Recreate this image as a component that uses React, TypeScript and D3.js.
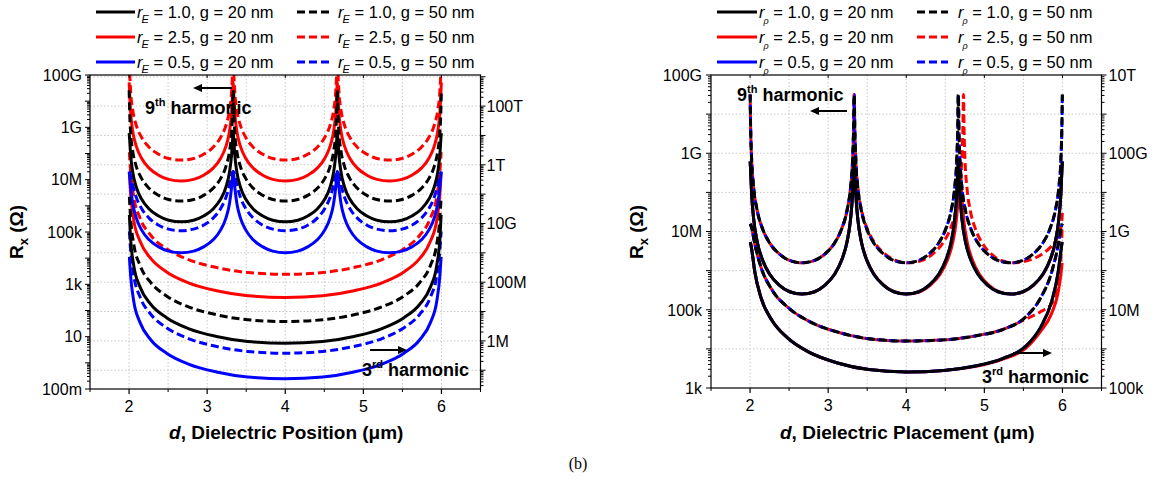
import React from "react";
import * as d3 from "d3";

const FONT = "'Liberation Sans', Arial, Helvetica, sans-serif";

// fraction of an arch's width, measured from its edge, at which values were read
const FRAC = [0.001, 0.005, 0.015, 0.035, 0.07, 0.12, 0.19, 0.28, 0.38, 0.5];
const X_DOMAIN: [number, number] = [1.5, 6.5];
const X_TICKS = [2, 3, 4, 5, 6];
const ARCH_EDGES_9 = [2, 10 / 3, 14 / 3, 6];
const ARCH_EDGES_3 = [2, 6];
const P_RED_EDGES_9_50 = [2, 10 / 3, 4.733, 6];
const P_RED_EDGES_9_20 = [2, 10 / 3, 4.69, 6];

const LEGEND_RATIOS = ["1.0", "2.5", "0.5"];
const LEGEND_GAPS = ["20", "50"];
const COLORS = ["#000000", "#ff0000", "#0000ff"];

// tick labels (decade exponents and their labels)
const E_LEFT_DECADES = [-1, 1, 3, 5, 7, 9, 11];
const E_LEFT_LABELS = ["100m", "10", "1k", "100k", "10M", "1G", "100G"];
const E_RIGHT_DECADES = [6, 8, 10, 12, 14];
const E_RIGHT_LABELS = ["1M", "100M", "10G", "1T", "100T"];
const P_LEFT_DECADES = [3, 5, 7, 9, 11];
const P_LEFT_LABELS = ["1k", "100k", "10M", "1G", "100G"];
const P_RIGHT_DECADES = [5, 7, 9, 11, 13];
const P_RIGHT_LABELS = ["100k", "10M", "1G", "100G", "10T"];

// ---- Left panel (r_E): log10(Rx) half-arch values ----
// 9th harmonic (left axis)
const E_BLACK_20_H9 = [8.78, 8.58, 7.97, 7.3, 6.71, 6.26, 5.89, 5.62, 5.45, 5.39];
const E_BLACK_50_H9 = [10.42, 9.71, 8.82, 8.1, 7.5, 7.05, 6.68, 6.41, 6.24, 6.18];
const E_RED_20_H9 = [10.72, 10.34, 9.57, 8.86, 8.27, 7.82, 7.45, 7.18, 7.01, 6.95];
const E_RED_50_H9 = [12.45, 11.34, 10.4, 9.67, 9.07, 8.62, 8.25, 7.98, 7.81, 7.75];
const E_BLUE_20_H9 = [7.31, 7.19, 6.73, 6.1, 5.53, 5.08, 4.71, 4.44, 4.27, 4.21];
const E_BLUE_50_H9 = [7.3, 7.28, 7.16, 6.8, 6.32, 5.9, 5.54, 5.27, 5.11, 5.05];
// 3rd harmonic (right axis)
const E_BLACK_20_H3 = [10.29, 9.47, 8.57, 7.84, 7.24, 6.79, 6.42, 6.15, 5.98, 5.92];
const E_BLACK_50_H3 = [10.91, 10.19, 9.3, 8.58, 7.98, 7.53, 7.16, 6.89, 6.72, 6.66];
const E_RED_20_H3 = [11.72, 11.01, 10.12, 9.4, 8.8, 8.35, 7.98, 7.71, 7.54, 7.48];
const E_RED_50_H3 = [12.43, 11.78, 10.91, 10.19, 9.59, 9.14, 8.77, 8.5, 8.33, 8.27];
const E_BLUE_20_H3 = [8.86, 8.22, 7.35, 6.63, 6.03, 5.58, 5.21, 4.94, 4.77, 4.71];
const E_BLUE_50_H3 = [9.73, 9.09, 8.22, 7.5, 6.9, 6.45, 6.08, 5.81, 5.64, 5.58];

// ---- Right panel (r_rho) ----
const P_H9_20 = [8.79, 8.59, 7.98, 7.31, 6.72, 6.27, 5.9, 5.63, 5.46, 5.4];
const P_H9_50 = [10.5, 9.74, 8.85, 8.12, 7.52, 7.07, 6.7, 6.43, 6.26, 6.2];
const P_RED_H9_50_END = [7.5, 7.3, 7.1, 6.95, 6.75, 6.6, 6.45, 6.32, 6.24, 6.2];
const P_H3_20 = [8.73, 8.56, 7.98, 7.31, 6.73, 6.28, 5.91, 5.64, 5.47, 5.41];
const P_H3_20_END = [8.73, 8.5, 7.9, 7.2, 6.55, 6.05, 5.76, 5.56, 5.45, 5.41];
const P_H3_50 = [9.2, 9.1, 8.69, 8.09, 7.51, 7.07, 6.7, 6.43, 6.26, 6.2];
const P_H3_50_END = [9.2, 9.05, 8.6, 7.95, 7.3, 6.8, 6.5, 6.33, 6.23, 6.2];
const P_RED_H3_20_END = [8.2, 7.9, 7.4, 6.9, 6.45, 6.0, 5.74, 5.55, 5.45, 5.41];
const P_RED_H3_50_END = [9.1, 8.3, 7.6, 7.15, 6.95, 6.75, 6.5, 6.33, 6.23, 6.2];

type Series = {
  color: string;
  dashed: boolean;
  axis: "L" | "R";
  edges: number[];
  half: number[];
  rightHalf?: number[];
  lastRightHalf?: number[];
  dashOffset?: number;
};

function buildPoints(s: Series): [number, number][] {
  const pts: [number, number][] = [];
  const n = s.edges.length - 1;
  for (let i = 0; i < n; i++) {
    const a = s.edges[i];
    const b = s.edges[i + 1];
    const w = b - a;
    for (let j = 0; j < FRAC.length; j++) pts.push([a + FRAC[j] * w, s.half[j]]);
    const rh = i === n - 1 && s.lastRightHalf ? s.lastRightHalf : s.rightHalf ?? s.half;
    for (let j = FRAC.length - 2; j >= 0; j--) pts.push([b - FRAC[j] * w, rh[j]]);
  }
  return pts;
}

const E_SERIES: Series[] = [
  { color: COLORS[1], dashed: false, axis: "L", edges: ARCH_EDGES_9, half: E_RED_20_H9 },
  { color: COLORS[1], dashed: true, axis: "L", edges: ARCH_EDGES_9, half: E_RED_50_H9 },
  { color: COLORS[1], dashed: false, axis: "R", edges: ARCH_EDGES_3, half: E_RED_20_H3 },
  { color: COLORS[1], dashed: true, axis: "R", edges: ARCH_EDGES_3, half: E_RED_50_H3 },
  { color: COLORS[2], dashed: false, axis: "L", edges: ARCH_EDGES_9, half: E_BLUE_20_H9 },
  { color: COLORS[2], dashed: true, axis: "L", edges: ARCH_EDGES_9, half: E_BLUE_50_H9 },
  { color: COLORS[2], dashed: false, axis: "R", edges: ARCH_EDGES_3, half: E_BLUE_20_H3 },
  { color: COLORS[2], dashed: true, axis: "R", edges: ARCH_EDGES_3, half: E_BLUE_50_H3 },
  { color: COLORS[0], dashed: false, axis: "L", edges: ARCH_EDGES_9, half: E_BLACK_20_H9 },
  { color: COLORS[0], dashed: true, axis: "L", edges: ARCH_EDGES_9, half: E_BLACK_50_H9 },
  { color: COLORS[0], dashed: false, axis: "R", edges: ARCH_EDGES_3, half: E_BLACK_20_H3 },
  { color: COLORS[0], dashed: true, axis: "R", edges: ARCH_EDGES_3, half: E_BLACK_50_H3 },
];

const P_SERIES: Series[] = [
  { color: COLORS[1], dashed: false, axis: "L", edges: P_RED_EDGES_9_20, half: P_H9_20 },
  { color: COLORS[1], dashed: true, axis: "L", edges: P_RED_EDGES_9_50, half: P_H9_50, lastRightHalf: P_RED_H9_50_END, dashOffset: -8 },
  { color: COLORS[1], dashed: false, axis: "R", edges: ARCH_EDGES_3, half: P_H3_20, rightHalf: P_RED_H3_20_END },
  { color: COLORS[1], dashed: true, axis: "R", edges: ARCH_EDGES_3, half: P_H3_50, rightHalf: P_RED_H3_50_END, dashOffset: -8 },
  { color: COLORS[2], dashed: false, axis: "L", edges: ARCH_EDGES_9, half: P_H9_20 },
  { color: COLORS[2], dashed: true, axis: "L", edges: ARCH_EDGES_9, half: P_H9_50, dashOffset: -10 },
  { color: COLORS[2], dashed: false, axis: "R", edges: ARCH_EDGES_3, half: P_H3_20, rightHalf: P_H3_20_END },
  { color: COLORS[2], dashed: true, axis: "R", edges: ARCH_EDGES_3, half: P_H3_50, rightHalf: P_H3_50_END, dashOffset: -10 },
  { color: COLORS[0], dashed: false, axis: "L", edges: ARCH_EDGES_9, half: P_H9_20 },
  { color: COLORS[0], dashed: true, axis: "L", edges: ARCH_EDGES_9, half: P_H9_50 },
  { color: COLORS[0], dashed: false, axis: "R", edges: ARCH_EDGES_3, half: P_H3_20, rightHalf: P_H3_20_END },
  { color: COLORS[0], dashed: true, axis: "R", edges: ARCH_EDGES_3, half: P_H3_50, rightHalf: P_H3_50_END },
];

type Cfg = {
  id: string;
  x0: number; x1: number; yTop: number; yBot: number;
  leftDom: [number, number]; rightDom: [number, number];
  leftDecades: number[]; leftLabels: string[];
  rightDecades: number[]; rightLabels: string[];
  gridAxis: "L" | "R";
  series: Series[];
  xTitle: string; yTitleX: number;
  sub: string; subSize: number; subDy: number;
  legend: { l0: number; l1: number; t: number; d0: number; d1: number; dt: number };
  h9: { tx: number; ty: number; ax0: number; ax1: number; ay: number };
  h3: { tx: number; ty: number; ax0: number; ax1: number; ay: number };
  leftLabelGap: number; rightLabelGap: number;
};

function logTicks(dom: [number, number]) {
  const out: { v: number; major: boolean }[] = [];
  for (let k = Math.floor(dom[0]); k <= Math.ceil(dom[1]); k++) {
    for (let m = 1; m <= 9; m++) {
      const lv = Math.log10(m) + k;
      if (lv >= dom[0] - 1e-9 && lv <= dom[1] + 1e-9) out.push({ v: m * Math.pow(10, k), major: m === 1 });
    }
  }
  return out;
}

function Arrow({ x0, x1, y }: { x0: number; x1: number; y: number }) {
  const dir = x1 > x0 ? 1 : -1;
  const hl = 9;
  return (
    <g>
      <line x1={x0} y1={y} x2={x1 - dir * hl} y2={y} stroke="#000" strokeWidth={2} />
      <polygon points={`${x1},${y} ${x1 - dir * hl},${y - 4} ${x1 - dir * hl},${y + 4}`} fill="#000" />
    </g>
  );
}

function Harm({ tx, ty, n, sup }: { tx: number; ty: number; n: string; sup: string }) {
  return (
    <text x={tx} y={ty} fontFamily={FONT} fontWeight="bold" fontSize={18} fill="#000">
      {n}
      <tspan fontSize={11} dy={-8}>{sup}</tspan>
      <tspan dy={8}> harmonic</tspan>
    </text>
  );
}

function Panel({ cfg }: { cfg: Cfg }) {
  const x = d3.scaleLinear().domain(X_DOMAIN).range([cfg.x0, cfg.x1]);
  const yL = d3.scaleLog().domain([Math.pow(10, cfg.leftDom[0]), Math.pow(10, cfg.leftDom[1])]).range([cfg.yBot, cfg.yTop]);
  const yR = d3.scaleLog().domain([Math.pow(10, cfg.rightDom[0]), Math.pow(10, cfg.rightDom[1])]).range([cfg.yBot, cfg.yTop]);
  const gridScale = cfg.gridAxis === "R" ? yR : yL;
  const gridDom = cfg.gridAxis === "R" ? cfg.rightDom : cfg.leftDom;
  const hGrid: number[] = [];
  for (let k = Math.ceil(gridDom[0]); k <= Math.floor(gridDom[1]); k++) {
    const y = gridScale(Math.pow(10, k));
    if (y > cfg.yTop + 1 && y < cfg.yBot - 1) hGrid.push(y);
  }
  const vGrid = d3.range(2, 6.01, 0.5);
  const xMinor = d3.range(1.5, 6.51, 0.5).filter((d) => Math.abs(d - Math.round(d)) > 0.1);
  const leftTicks = logTicks(cfg.leftDom);
  const rightTicks = logTicks(cfg.rightDom);
  const clipId = `clip-${cfg.id}`;

  const lineGen = (s: Series) =>
    d3
      .line<[number, number]>()
      .x((p) => x(p[0]))
      .y((p) => (s.axis === "L" ? yL : yR)(Math.pow(10, p[1])))
      .curve(d3.curveMonotoneX)(buildPoints(s)) || "";

  const lg = cfg.legend;
  const rows = [12, 37, 62];
  const legText = (ratio: string, gap: string, tx: number, y: number) => (
    <text x={tx} y={y + 5.5} fontFamily={FONT} fontSize={16.5} fill="#000">
      <tspan fontStyle="italic">r</tspan>
      <tspan fontStyle="italic" fontSize={cfg.subSize} dy={cfg.subDy} dx={-1}>{cfg.sub}</tspan>
      <tspan dy={-cfg.subDy}>{` = ${ratio}, g = ${gap} nm`}</tspan>
    </text>
  );

  return (
    <g>
      <defs>
        <clipPath id={clipId}>
          <rect x={cfg.x0} y={cfg.yTop} width={cfg.x1 - cfg.x0} height={cfg.yBot - cfg.yTop} />
        </clipPath>
      </defs>
      {hGrid.map((y, i) => (
        <line key={`hg${i}`} x1={cfg.x0} x2={cfg.x1} y1={y} y2={y} stroke="#c8c8c8" strokeWidth={1} strokeDasharray="1.5,2" />
      ))}
      {vGrid.map((d, i) => (
        <line key={`vg${i}`} x1={x(d)} x2={x(d)} y1={cfg.yTop} y2={cfg.yBot} stroke="#c8c8c8" strokeWidth={1} strokeDasharray="1.5,2" />
      ))}
      <g clipPath={`url(#${clipId})`}>
        {cfg.series.map((s, i) => (
          <path
            key={`s${i}`}
            d={lineGen(s)}
            fill="none"
            stroke={s.color}
            strokeWidth={3}
            strokeDasharray={s.dashed ? "8,4" : undefined}
            strokeDashoffset={s.dashOffset ?? 0}
            strokeLinejoin="round"
          />
        ))}
      </g>
      <rect x={cfg.x0} y={cfg.yTop} width={cfg.x1 - cfg.x0} height={cfg.yBot - cfg.yTop} fill="none" stroke="#000" strokeWidth={1.2} />
      {X_TICKS.map((d) => (
        <g key={`xt${d}`}>
          <line x1={x(d)} x2={x(d)} y1={cfg.yBot} y2={cfg.yBot + 5} stroke="#000" strokeWidth={1.2} />
          <line x1={x(d)} x2={x(d)} y1={cfg.yTop} y2={cfg.yTop + 3} stroke="#000" strokeWidth={1} />
          <text x={x(d)} y={cfg.yBot + 23} textAnchor="middle" fontFamily={FONT} fontSize={16} fill="#000">{d}</text>
        </g>
      ))}
      {xMinor.map((d) => (
        <line key={`xm${d}`} x1={x(d)} x2={x(d)} y1={cfg.yBot} y2={cfg.yBot + 3} stroke="#000" strokeWidth={1} />
      ))}
      {leftTicks.map((t, i) => (
        <line key={`lt${i}`} x1={cfg.x0 - (t.major ? 5 : 3)} x2={cfg.x0} y1={yL(t.v)} y2={yL(t.v)} stroke="#000" strokeWidth={1} />
      ))}
      {cfg.leftDecades.map((k, i) => (
        <text key={`ll${k}`} x={cfg.x0 - cfg.leftLabelGap} y={yL(Math.pow(10, k))} dy="0.36em" textAnchor="end" fontFamily={FONT} fontSize={16} fill="#000">
          {cfg.leftLabels[i]}
        </text>
      ))}
      {rightTicks.map((t, i) => (
        <line key={`rt${i}`} x1={cfg.x1} x2={cfg.x1 + (t.major ? 5 : 3)} y1={yR(t.v)} y2={yR(t.v)} stroke="#000" strokeWidth={1} />
      ))}
      {cfg.rightDecades.map((k, i) => (
        <text key={`rl${k}`} x={cfg.x1 + cfg.rightLabelGap} y={yR(Math.pow(10, k))} dy="0.36em" textAnchor="start" fontFamily={FONT} fontSize={16} fill="#000">
          {cfg.rightLabels[i]}
        </text>
      ))}
      <text x={(cfg.x0 + cfg.x1) / 2 + 1} y={439} textAnchor="middle" fontFamily={FONT} fontWeight="bold" fontSize={19} fill="#000">
        <tspan fontStyle="italic">d</tspan>
        {cfg.xTitle}
      </text>
      <text transform={`translate(${cfg.yTitleX},232) rotate(-90)`} textAnchor="middle" fontFamily={FONT} fontWeight="bold" fontSize={19} fill="#000">
        R<tspan fontSize={13} dy={5}>x</tspan>
        <tspan dy={-5}> (Ω)</tspan>
      </text>
      <Harm tx={cfg.h9.tx} ty={cfg.h9.ty} n="9" sup="th" />
      <Arrow x0={cfg.h9.ax0} x1={cfg.h9.ax1} y={cfg.h9.ay} />
      <Harm tx={cfg.h3.tx} ty={cfg.h3.ty} n="3" sup="rd" />
      <Arrow x0={cfg.h3.ax0} x1={cfg.h3.ax1} y={cfg.h3.ay} />
      {LEGEND_RATIOS.map((r, i) => (
        <g key={`lg${i}`}>
          <line x1={lg.l0} x2={lg.l1} y1={rows[i]} y2={rows[i]} stroke={COLORS[i]} strokeWidth={3} />
          {legText(r, LEGEND_GAPS[0], lg.t, rows[i])}
          <line x1={lg.d0} x2={lg.d1} y1={rows[i]} y2={rows[i]} stroke={COLORS[i]} strokeWidth={3} strokeDasharray="8,4" />
          {legText(r, LEGEND_GAPS[1], lg.dt, rows[i])}
        </g>
      ))}
    </g>
  );
}

const LEFT_CFG: Cfg = {
  id: "e",
  x0: 90, x1: 480.5, yTop: 75, yBot: 389,
  leftDom: [-1, 11], rightDom: [4.36, 15.06],
  leftDecades: E_LEFT_DECADES, leftLabels: E_LEFT_LABELS,
  rightDecades: E_RIGHT_DECADES, rightLabels: E_RIGHT_LABELS,
  gridAxis: "R",
  series: E_SERIES,
  xTitle: ", Dielectric Position (μm)", yTitleX: 23,
  sub: "E", subSize: 11, subDy: 5,
  legend: { l0: 96, l1: 135, t: 137, d0: 297, d1: 329, dt: 338 },
  h9: { tx: 145, ty: 114, ax0: 232, ax1: 193, ay: 88 },
  h3: { tx: 362, ty: 376, ax0: 370, ax1: 407, ay: 350 },
  leftLabelGap: 8, rightLabelGap: 6,
};

const RIGHT_CFG: Cfg = {
  id: "p",
  x0: 711, x1: 1101.5, yTop: 75, yBot: 388,
  leftDom: [3, 11], rightDom: [5, 13],
  leftDecades: P_LEFT_DECADES, leftLabels: P_LEFT_LABELS,
  rightDecades: P_RIGHT_DECADES, rightLabels: P_RIGHT_LABELS,
  gridAxis: "L",
  series: P_SERIES,
  xTitle: ", Dielectric Placement (μm)", yTitleX: 643,
  sub: "ρ", subSize: 9, subDy: 6,
  legend: { l0: 717, l1: 757, t: 759, d0: 917, d1: 948, dt: 958 },
  h9: { tx: 737, ty: 101, ax0: 847, ax1: 810, ay: 111 },
  h3: { tx: 982, ty: 383, ax0: 1013, ax1: 1052, ay: 353 },
  leftLabelGap: 9, rightLabelGap: 7,
};

export default function App() {
  return (
    <svg
      width={1157}
      height={484}
      viewBox="0 0 1157 484"
      style={{ position: "absolute", left: 0, top: 0, background: "#fff" }}
    >
      <rect x={0} y={0} width={1157} height={484} fill="#fff" />
      <Panel cfg={LEFT_CFG} />
      <Panel cfg={RIGHT_CFG} />
      <text x={578} y={469} textAnchor="middle" fontFamily="'Liberation Serif', 'Times New Roman', serif" fontSize={16} fill="#000">
        (b)
      </text>
    </svg>
  );
}
